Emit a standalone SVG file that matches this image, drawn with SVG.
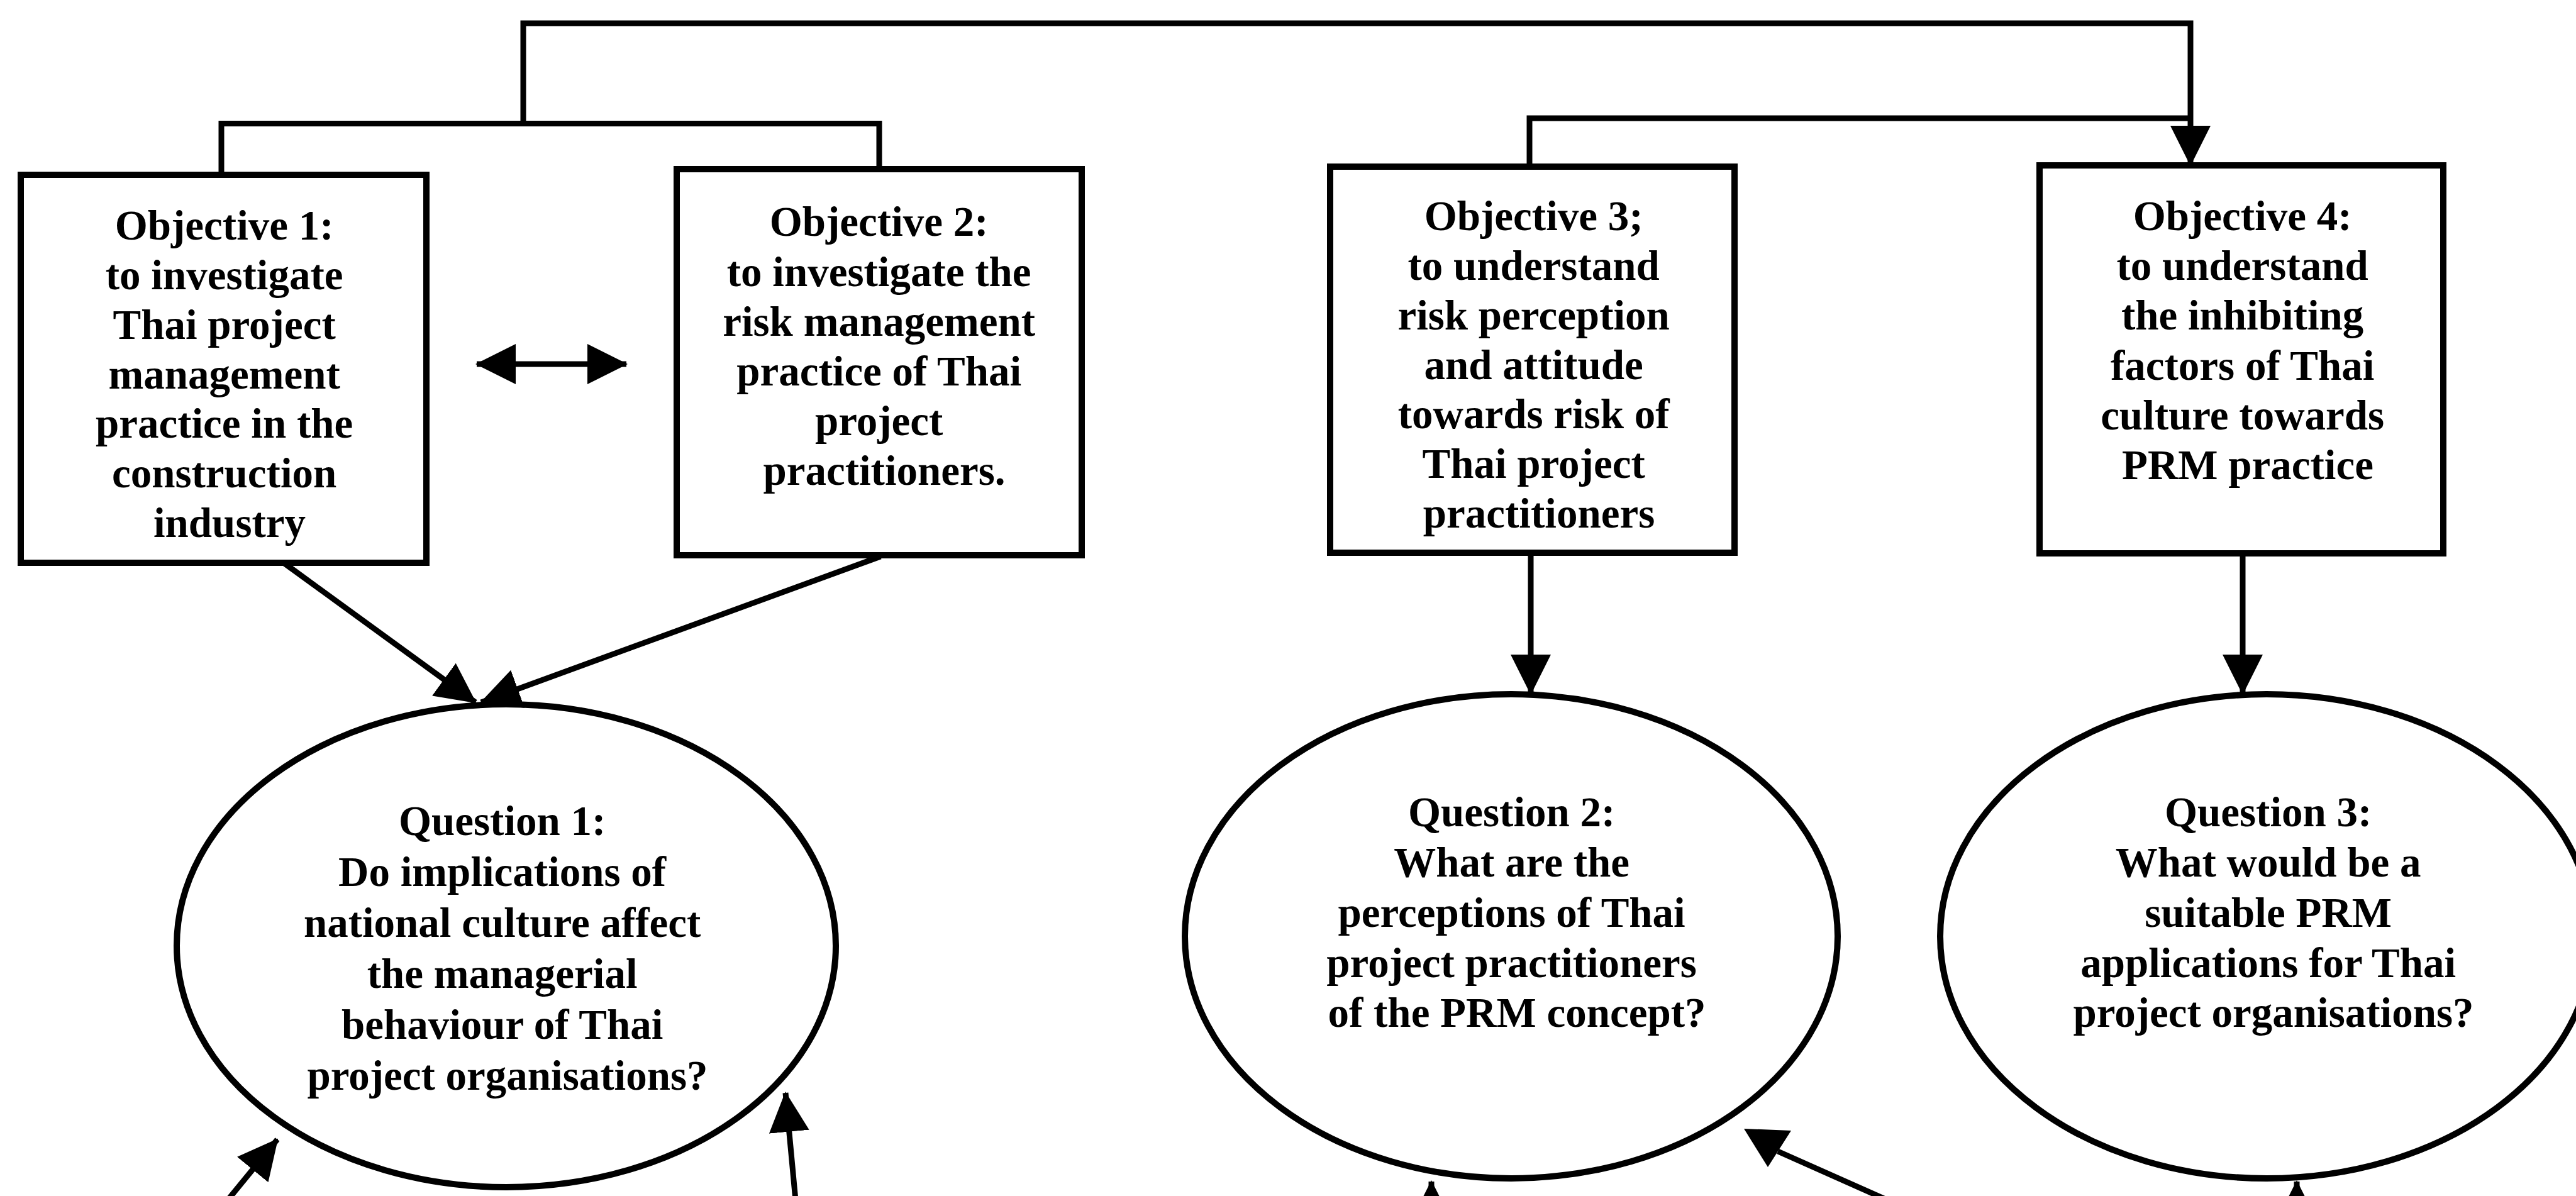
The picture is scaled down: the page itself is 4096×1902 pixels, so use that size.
<svg xmlns="http://www.w3.org/2000/svg" width="4096" height="1902" viewBox="0 0 4096 1902">
  <style>
    .box { fill: #ffffff; stroke: #000000; stroke-width: 10; }
    .oval { fill: none; stroke: #000000; stroke-width: 10; }
    .wire { fill: none; stroke: #000000; stroke-width: 9; stroke-linejoin: miter; }
    .arrow { marker-end: url(#head); }
    .label { font-family: "Liberation Serif", "Times New Roman", serif; font-weight: bold; font-size: 67px; fill: #000000; text-anchor: middle; }
  </style>
  <defs>
    <marker id="head" viewBox="0 0 64 64" markerWidth="64" markerHeight="64" refX="62" refY="32" orient="auto-start-reverse" markerUnits="userSpaceOnUse">
      <path d="M0,0 L64,32 L0,64 Z" fill="#000000"/>
    </marker>
  </defs>

  <rect x="0" y="0" width="4096" height="1902" fill="#ffffff"/>

  <!-- connectors -->
  <g id="connectors">
    <!-- top brackets linking the objectives -->
    <path class="wire arrow" d="M832,196.5 V37 H3483 V262"/>
    <path class="wire" d="M352,278 V196.5 H1398 V269"/>
    <path class="wire" d="M2432,265 V188 H3483"/>
    <!-- objective 1 <-> objective 2 -->
    <line class="wire" x1="758" y1="579" x2="996" y2="579" stroke-width="12" marker-start="url(#head)" marker-end="url(#head)"/>
    <!-- objectives to questions -->
    <line class="wire arrow" x1="451" y1="895" x2="756" y2="1117"/>
    <line class="wire arrow" x1="1400" y1="885" x2="765" y2="1117"/>
    <line class="wire arrow" x1="2434" y1="879" x2="2434" y2="1103"/>
    <line class="wire arrow" x1="3566" y1="880" x2="3566" y2="1103"/>
    <!-- incoming arrows from below -->
    <line class="wire arrow" x1="346" y1="1928" x2="441" y2="1812"/>
    <line class="wire arrow" x1="1267" y1="1930" x2="1249" y2="1738"/>
    <line class="wire arrow" x1="2276" y1="1960" x2="2276" y2="1879"/>
    <line class="wire arrow" x1="3652" y1="1960" x2="3652" y2="1879"/>
    <line class="wire" x1="2827" y1="1831" x2="3000" y2="1908"/>
    <polygon points="2773,1795 2848,1798 2811,1856" fill="#000000"/>
  </g>

  <g id="objective-1">
    <rect class="box" x="33" y="278" width="645" height="617"/>
    <text class="label">
      <tspan x="365" y="381">Objective 1:</tspan>
      <tspan x="365" y="460">to investigate</tspan>
      <tspan x="365" y="539">Thai project</tspan>
      <tspan x="365" y="618">management</tspan>
      <tspan x="365" y="696">practice in the</tspan>
      <tspan x="365" y="775">construction</tspan>
      <tspan x="365" y="854">industry</tspan>
    </text>
  </g>

  <g id="objective-2">
    <rect class="box" x="1076" y="269" width="644" height="614"/>
    <text class="label">
      <tspan x="1406" y="375">Objective 2:</tspan>
      <tspan x="1406" y="455">to investigate the</tspan>
      <tspan x="1406" y="534">risk management</tspan>
      <tspan x="1406" y="613">practice of Thai</tspan>
      <tspan x="1406" y="692">project</tspan>
      <tspan x="1406" y="771">practitioners.</tspan>
    </text>
  </g>

  <g id="objective-3">
    <rect class="box" x="2115" y="265" width="643" height="614"/>
    <text class="label">
      <tspan x="2447" y="366">Objective 3;</tspan>
      <tspan x="2447" y="445">to understand</tspan>
      <tspan x="2447" y="524">risk perception</tspan>
      <tspan x="2447" y="603">and attitude</tspan>
      <tspan x="2447" y="681">towards risk of</tspan>
      <tspan x="2447" y="760">Thai project</tspan>
      <tspan x="2447" y="839">practitioners</tspan>
    </text>
  </g>

  <g id="objective-4">
    <rect class="box" x="3243" y="263" width="642" height="617"/>
    <text class="label">
      <tspan x="3574" y="366">Objective 4:</tspan>
      <tspan x="3574" y="445">to understand</tspan>
      <tspan x="3574" y="524">the inhibiting</tspan>
      <tspan x="3574" y="604">factors of Thai</tspan>
      <tspan x="3574" y="683">culture towards</tspan>
      <tspan x="3574" y="762">PRM practice</tspan>
    </text>
  </g>

  <g id="question-1">
    <ellipse class="oval" cx="805" cy="1504" rx="524" ry="384"/>
    <text class="label">
      <tspan x="807" y="1328">Question 1:</tspan>
      <tspan x="807" y="1409">Do implications of</tspan>
      <tspan x="807" y="1490">national culture affect</tspan>
      <tspan x="807" y="1571">the managerial</tspan>
      <tspan x="807" y="1652">behaviour of Thai</tspan>
      <tspan x="807" y="1733">project organisations?</tspan>
    </text>
  </g>

  <g id="question-2">
    <ellipse class="oval" cx="2403" cy="1489" rx="519" ry="385"/>
    <text class="label">
      <tspan x="2412" y="1314">Question 2:</tspan>
      <tspan x="2412" y="1394">What are the</tspan>
      <tspan x="2412" y="1474">perceptions of Thai</tspan>
      <tspan x="2412" y="1554">project practitioners</tspan>
      <tspan x="2412" y="1633">of the PRM concept?</tspan>
    </text>
  </g>

  <g id="question-3">
    <ellipse class="oval" cx="3604" cy="1489" rx="519" ry="385"/>
    <text class="label">
      <tspan x="3615" y="1314">Question 3:</tspan>
      <tspan x="3615" y="1394">What would be a</tspan>
      <tspan x="3615" y="1474">suitable PRM</tspan>
      <tspan x="3615" y="1554">applications for Thai</tspan>
      <tspan x="3615" y="1633">project organisations?</tspan>
    </text>
  </g>
</svg>
